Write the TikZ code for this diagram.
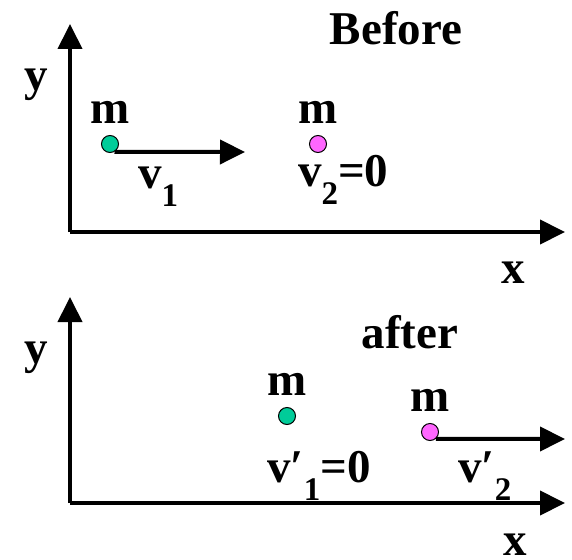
\documentclass[tikz,border=0pt]{standalone}
\usepackage{fontspec}
\setmainfont{Liberation Serif}
\usepackage{xcolor}
\usetikzlibrary{arrows.meta,positioning}
\definecolor{ballgreen}{RGB}{0,204,153}
\definecolor{ballpink}{RGB}{255,102,255}
\newcommand\idx[1]{\raisebox{-18pt}{\fontsize{33}{33}\selectfont #1}}

\begin{document}
\begin{tikzpicture}[
    x=1pt, y=-1pt,
    txt/.style={inner sep=0pt,font=\fontsize{47}{50}\selectfont\bfseries},
    ball/.style={circle,draw=black,line width=1pt,minimum size=17pt,inner sep=0pt},
    vec/.style={line width=4pt,-{Triangle[length=25pt,width=24pt]}},
]
\path[use as bounding box] (0,0) rectangle (572,559);
% before
\coordinate (o1) at (70,232);
\coordinate (y1) at (70,24);
\coordinate (x1) at (565,232);
\draw[vec] (o1) -- (y1);
\draw[vec] (o1) -- (x1);
\node[txt,anchor=base] (ylab1) at (36,91) {y};
\node[txt,anchor=base] (xlab1) at (513,283) {x};
\node[txt,anchor=base] (before) at (396,45) {Before};
\node[ball,fill=ballgreen] (g1) at (110,144) {};
\node[ball,fill=ballpink] (p1) at (318,144) {};
\node[txt,above=11pt of g1] (m1) {m};
\node[txt,above=11pt of p1] (m2) {m};
\coordinate (v1tip) at (245,152);
\draw[vec] (g1.-60) -- (v1tip);
\node[txt,anchor=base west] (v1) at (138,188) {v\idx{1}};
\node[txt,anchor=base west] (v2) at (298,186) {v\idx{2}=0};
% after
\coordinate (o2) at (70,503);
\coordinate (y2) at (70,297);
\coordinate (x2) at (565,503);
\draw[vec] (o2) -- (y2);
\draw[vec] (o2) -- (x2);
\node[txt,anchor=base] (ylab2) at (36,363) {y};
\node[txt,anchor=base] (xlab2) at (515,555) {x};
\node[txt,anchor=base] (after) at (410,348) {after};
\node[ball,fill=ballgreen] (g2) at (287,416) {};
\node[ball,fill=ballpink] (p2) at (430,432) {};
\node[txt,above=11pt of g2] (m3) {m};
\node[txt,above=11pt of p2] (m4) {m};
\coordinate (v2tip) at (565,439);
\draw[vec] (p2.-50) -- (v2tip);
\node[txt,anchor=base west] (v1p) at (267,482) {v′\idx{1}=0};
\node[txt,anchor=base west] (v2p) at (458,482) {v′\idx{2}};
\end{tikzpicture}
\end{document}
